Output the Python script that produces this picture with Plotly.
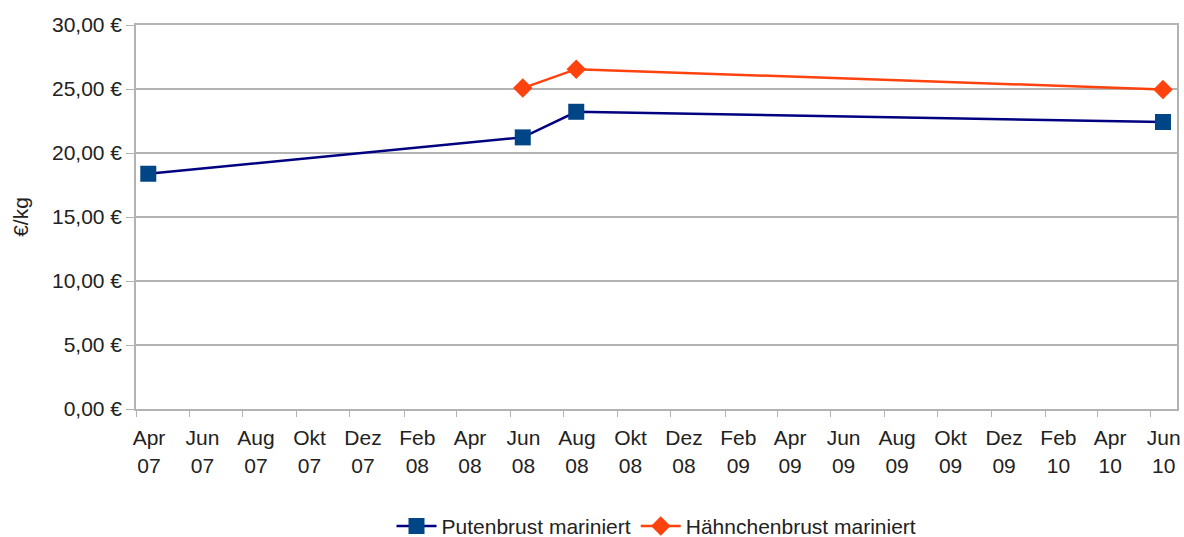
import plotly.graph_objects as go

# Data
puten_dates = ["2007-04-15", "2008-06-15", "2008-08-15", "2010-06-15"]
puten_values = [18.38, 21.22, 23.22, 22.42]
haehnchen_dates = ["2008-06-15", "2008-08-15", "2010-06-15"]
haehnchen_values = [25.07, 26.55, 24.97]

tick_dates = ["2007-04-01", "2007-06-01", "2007-08-01", "2007-10-01", "2007-12-01",
              "2008-02-01", "2008-04-01", "2008-06-01", "2008-08-01", "2008-10-01",
              "2008-12-01", "2009-02-01", "2009-04-01", "2009-06-01", "2009-08-01",
              "2009-10-01", "2009-12-01", "2010-02-01", "2010-04-01", "2010-06-01"]
tick_months = ["Apr", "Jun", "Aug", "Okt", "Dez", "Feb", "Apr", "Jun", "Aug", "Okt",
               "Dez", "Feb", "Apr", "Jun", "Aug", "Okt", "Dez", "Feb", "Apr", "Jun"]
tick_years = ["07", "07", "07", "07", "07", "08", "08", "08", "08", "08",
              "08", "09", "09", "09", "09", "09", "09", "10", "10", "10"]

font_family = "Liberation Sans, Arial, sans-serif"
grid_col = "#b3b3b3"
text_col = "#222222"
x_range = ["2007-04-01", "2010-07-01"]

fig = go.Figure()
fig.add_trace(go.Scatter(
    x=puten_dates, y=puten_values, name="Putenbrust mariniert",
    mode="lines+markers", xaxis="x", yaxis="y",
    line=dict(color="#000080", width=2.5),
    marker=dict(symbol="square", size=16, color="#004586"),
))
fig.add_trace(go.Scatter(
    x=haehnchen_dates, y=haehnchen_values, name="Hähnchenbrust mariniert",
    mode="lines+markers", xaxis="x2", yaxis="y",
    line=dict(color="#ff420e", width=2.5),
    marker=dict(symbol="diamond", size=15, color="#ff420e"),
))

fig.update_layout(
    width=1184, height=537,
    margin=dict(l=136, r=7, t=25, b=128),
    paper_bgcolor="white", plot_bgcolor="white",
    font=dict(family=font_family, size=21, color=text_col),
    separators=",.",
    showlegend=True,
    legend=dict(orientation="h", x=0.5, xanchor="center",
                yref="container", y=0.02, yanchor="middle",
                font=dict(size=21), itemwidth=40, tracegroupgap=0),
    xaxis=dict(
        type="date", range=x_range, automargin=False,
        tickvals=tick_dates, ticktext=tick_months,
        ticks="outside", ticklen=6, tickcolor=grid_col,
        ticklabelshift=13, ticklabelstandoff=3, ticklabeloverflow="allow",
        showgrid=False, zeroline=False,
        showline=True, linecolor=grid_col, linewidth=1.5, mirror=True,
        tickangle=0, tickfont=dict(size=21),
    ),
    xaxis2=dict(
        type="date", range=x_range, automargin=False,
        overlaying="x", anchor="y", side="bottom",
        tickvals=tick_dates, ticktext=tick_years,
        ticks="outside", ticklen=38, tickcolor="rgba(0,0,0,0)",
        ticklabelshift=13, ticklabeloverflow="allow",
        showgrid=False, zeroline=False, showline=False,
        tickangle=0, tickfont=dict(size=21),
    ),
    yaxis=dict(
        range=[0, 30], dtick=5, tick0=0, automargin=False,
        tickformat=".2f", ticksuffix=" €",
        ticks="outside", ticklen=8, tickcolor=grid_col,
        showgrid=True, gridcolor=grid_col, gridwidth=1.5,
        zeroline=False,
        showline=True, linecolor=grid_col, linewidth=1.5, mirror=True,
        tickfont=dict(size=21),
        title=dict(text="€/kg", standoff=18, font=dict(size=21)),
    ),
)

fig.write_html(
    "out.html",
    config={"displayModeBar": False},
    post_script="document.body.style.margin='0';document.body.style.overflow='hidden';",
)
